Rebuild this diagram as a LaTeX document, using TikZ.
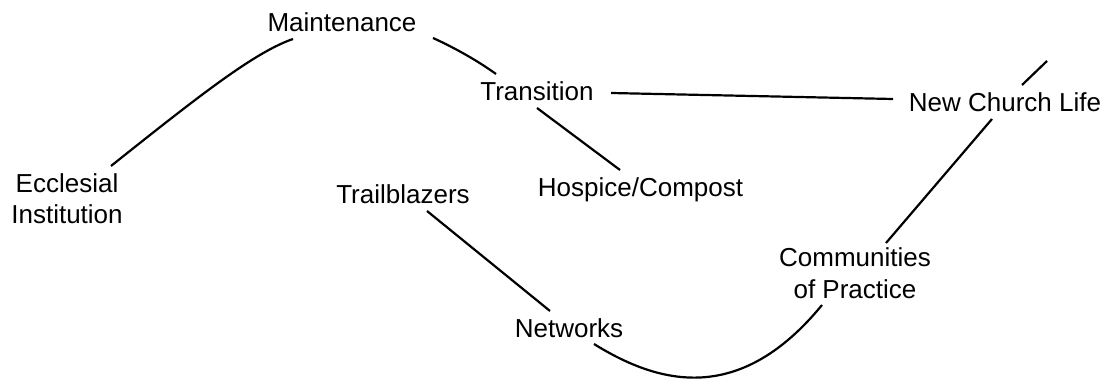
\documentclass[tikz,border=0pt]{standalone}
\usepackage{fontspec}
\setmainfont{Liberation Sans}
\begin{document}
\begin{tikzpicture}[x=1pt,y=-1pt,
  lbl/.style={font=\fontsize{26}{32}\selectfont, inner sep=0pt, anchor=base, align=center},
  link/.style={line width=2.2pt, black}]
\useasboundingbox (0,0) rectangle (1107,379);
\node[lbl] (eccl)  at (67,224)    {Ecclesial\\Institution};
\node[lbl] (maint) at (342,32)    {Maintenance};
\node[lbl] (trans) at (537,101)   {Transition};
\node[lbl] (ncl)   at (1005,112)  {New Church Life};
\node[lbl] (hosp)  at (640.5,197) {Hospice/Compost};
\node[lbl] (trail) at (403,204)   {Trailblazers};
\node[lbl] (netw)  at (569,337)   {Networks};
\node[lbl] (comm)  at (855,298)   {Communities\\of Practice};
\coordinate (tail) at (1047,61);
\draw[link] ([shift={(44,-58)}]eccl.base) .. controls +(89,-71) and +(-38,13) .. ([shift={(-49,7)}]maint.base);
\draw[link] ([shift={(91,6)}]maint.base) .. controls +(22,10) and +(-18,-13) .. ([shift={(-41,-27)}]trans.base);
\draw[link] ([shift={(74,-8)}]trans.base) -- ([shift={(-112,-13)}]ncl.base);
\draw[link] ([shift={(0,7)}]trans.base) -- ([shift={(-20.5,-27)}]hosp.base);
\draw[link] ([shift={(24,7)}]trail.base) -- ([shift={(-19,-26)}]netw.base);
\draw[link] ([shift={(25,7)}]netw.base) .. controls +(66,41) and +(-82,100) .. ([shift={(-33,7)}]comm.base);
\draw[link] ([shift={(31,-55)}]comm.base) -- ([shift={(-13,7)}]ncl.base);
\draw[link] ([shift={(17,-27)}]ncl.base) -- (tail);
\end{tikzpicture}
\end{document}
